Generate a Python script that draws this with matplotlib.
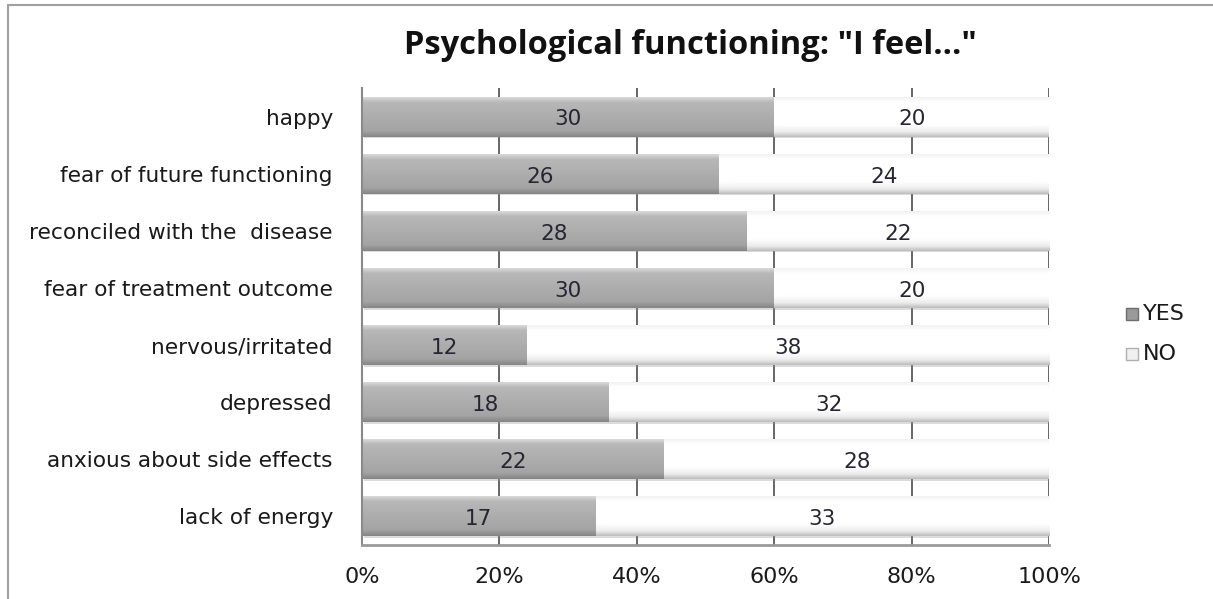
import numpy as np
import matplotlib
matplotlib.use("Agg")
import matplotlib.pyplot as plt
from matplotlib.patches import Rectangle
from matplotlib.colors import LinearSegmentedColormap

categories = ["happy", "fear of future functioning", "reconciled with the  disease",
              "fear of treatment outcome", "nervous/irritated", "depressed",
              "anxious about side effects", "lack of energy"]
yes_counts = [30, 26, 28, 30, 12, 18, 22, 17]
no_counts = [20, 24, 22, 20, 38, 32, 28, 33]
series_names = ["YES", "NO"]
xtick_values = [0, 20, 40, 60, 80, 100]
title = 'Psychological functioning: "I feel..."'

yes = np.array(yes_counts, float)
no = np.array(no_counts, float)
tot = yes + no
yes_pct = yes / tot * 100
no_pct = no / tot * 100

W, H = 1213, 599
fig = plt.figure(figsize=(W / 100, H / 100), dpi=100)
ax = fig.add_axes([362 / W, 1 - 545 / H, (1049 - 362) / W, (545 - 88) / H])

ypos = np.arange(len(categories))
bh = 0.70

yes_cmap = LinearSegmentedColormap.from_list(
    "yes", [(0, "#dadada"), (0.12, "#b8b8b8"), (0.5, "#adadad"), (0.85, "#a4a4a4"), (1, "#858585")])
no_cmap = LinearSegmentedColormap.from_list(
    "no", [(0, "#f2f2f2"), (0.12, "#ffffff"), (0.7, "#ffffff"), (0.88, "#ececec"), (1, "#bdbdbd")])

for x in xtick_values[1:]:
    ax.axvline(x, color="#5a5a5a", lw=1.3, zorder=0.5)

grad = np.linspace(0, 1, 64).reshape(-1, 1)


def draw_bars(left, width, cmap):
    bars = ax.barh(ypos, width, left=left, height=bh, color="none", edgecolor="none", zorder=2)
    for b in bars:
        x0, y0 = b.get_x(), b.get_y()
        w, h = b.get_width(), b.get_height()
        ax.add_patch(Rectangle((x0 + 0.25, y0 + h * 0.04), w, h, facecolor="#9a9a9a",
                               alpha=0.35, edgecolor="none", zorder=1.5))
        im = ax.imshow(grad, cmap=cmap, aspect="auto", extent=(x0, x0 + w, y0 + h, y0),
                       zorder=2, interpolation="bicubic")
        im.set_clip_path(b)
    return bars


draw_bars(np.zeros_like(yes_pct), yes_pct, yes_cmap)
draw_bars(yes_pct, no_pct, no_cmap)

for i in range(len(categories)):
    ax.text(yes_pct[i] / 2, ypos[i] + 0.05, f"{yes_counts[i]}", ha="center", va="center",
            fontsize=15.5, color="#262633", zorder=5)
    ax.text(yes_pct[i] + no_pct[i] / 2, ypos[i] + 0.05, f"{no_counts[i]}", ha="center",
            va="center", fontsize=15.5, color="#262633", zorder=5)

ax.set_xlim(0, 100)
ax.set_ylim(len(categories) - 0.5, -0.5)
ax.set_yticks(ypos)
ax.set_yticklabels(categories, fontsize=15.6, color="#1a1a1a")
ax.set_xticks(xtick_values)
ax.set_xticklabels([f"{v}%" for v in xtick_values], fontsize=16, color="#1a1a1a")
ax.tick_params(axis="both", length=0)
ax.tick_params(axis="y", pad=21)
ax.tick_params(axis="x", pad=16)
ax.spines["top"].set_visible(False)
ax.spines["right"].set_visible(False)
ax.spines["left"].set_color("#8a8a8a")
ax.spines["left"].set_linewidth(1.5)
ax.spines["bottom"].set_color("#9a9a9a")
ax.spines["bottom"].set_linewidth(2)
ax.set_facecolor("white")

fig.text(690 / W, 1 - 45 / H, title, ha="center", va="center", fontsize=23.5,
         fontweight="bold", family="Open Sans", color="#111111")

# legend
for k, (name, fc, ec) in enumerate(zip(series_names, ["#9a9a9a", "#f0f0f0"], ["#6e6e6e", "#b0b0b0"])):
    yk = 1 - (314 + 40 * k) / H
    fig.patches.append(Rectangle((1126 / W, yk - 6 / H), 12 / W, 12 / H, transform=fig.transFigure,
                                 facecolor=fc, edgecolor=ec, lw=1))
    fig.text(1143 / W, yk, name, ha="left", va="center", fontsize=16, color="#1a1a1a")

# outer chart border
fig.patches.append(Rectangle((8 / W, -0.1), 1.2, 1 - 5 / H + 0.1, transform=fig.transFigure,
                             facecolor="none", edgecolor="#a0a0a0", lw=1.5))

fig.savefig("out.png", dpi=100, facecolor="white")
